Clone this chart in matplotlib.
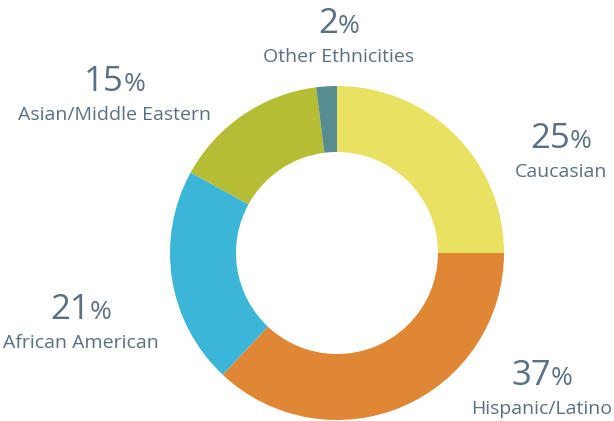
import matplotlib
matplotlib.use("Agg")
import matplotlib.pyplot as plt

categories = ["Caucasian", "Hispanic/Latino", "African American", "Asian/Middle Eastern", "Other Ethnicities"]
values = [25, 37, 21, 15, 2]
colors = ["#e9e161", "#e08735", "#3bb5d8", "#b5bd34", "#578d90"]
# label anchors: (center x, baseline y of the percentage), pixels from top-left -- layout only
label_pos = [(561, 148), (542, 385), (81, 319), (115, 91), (339, 33)]

W, H = 614, 421
fig = plt.figure(figsize=(W / 100, H / 100), dpi=100)
ax = fig.add_axes([0, 0, 1, 1])

R = 167
ax.pie(values, colors=colors, radius=R, center=(337, H - 253), startangle=90,
       counterclock=False, wedgeprops=dict(width=66, linewidth=0), frame=True)
ax.set_xlim(0, W)
ax.set_ylim(0, H)
ax.set_aspect("equal")
ax.axis("off")

txt_color = "#5a7084"
fam = ["Open Sans", "DejaVu Sans"]
fig.canvas.draw()
renderer = fig.canvas.get_renderer()
for cat, v, (px, py) in zip(categories, values, label_pos):
    y = H - py
    ax.text(px, y - 29, cat, ha="center", va="baseline", fontsize=14, color=txt_color,
            family=fam)
    num = ax.text(0, y, f"{v}", ha="left", va="baseline", fontsize=25,
                  color=txt_color, family=fam)
    pct = ax.text(0, y, "%", ha="left", va="baseline", fontsize=19,
                  color=txt_color, family=fam)
    wn = num.get_window_extent(renderer).width
    wp = pct.get_window_extent(renderer).width
    total = wn + wp
    x0 = px - total / 2
    num.set_x(x0)
    pct.set_x(x0 + wn)

fig.savefig("out.png", dpi=100)
